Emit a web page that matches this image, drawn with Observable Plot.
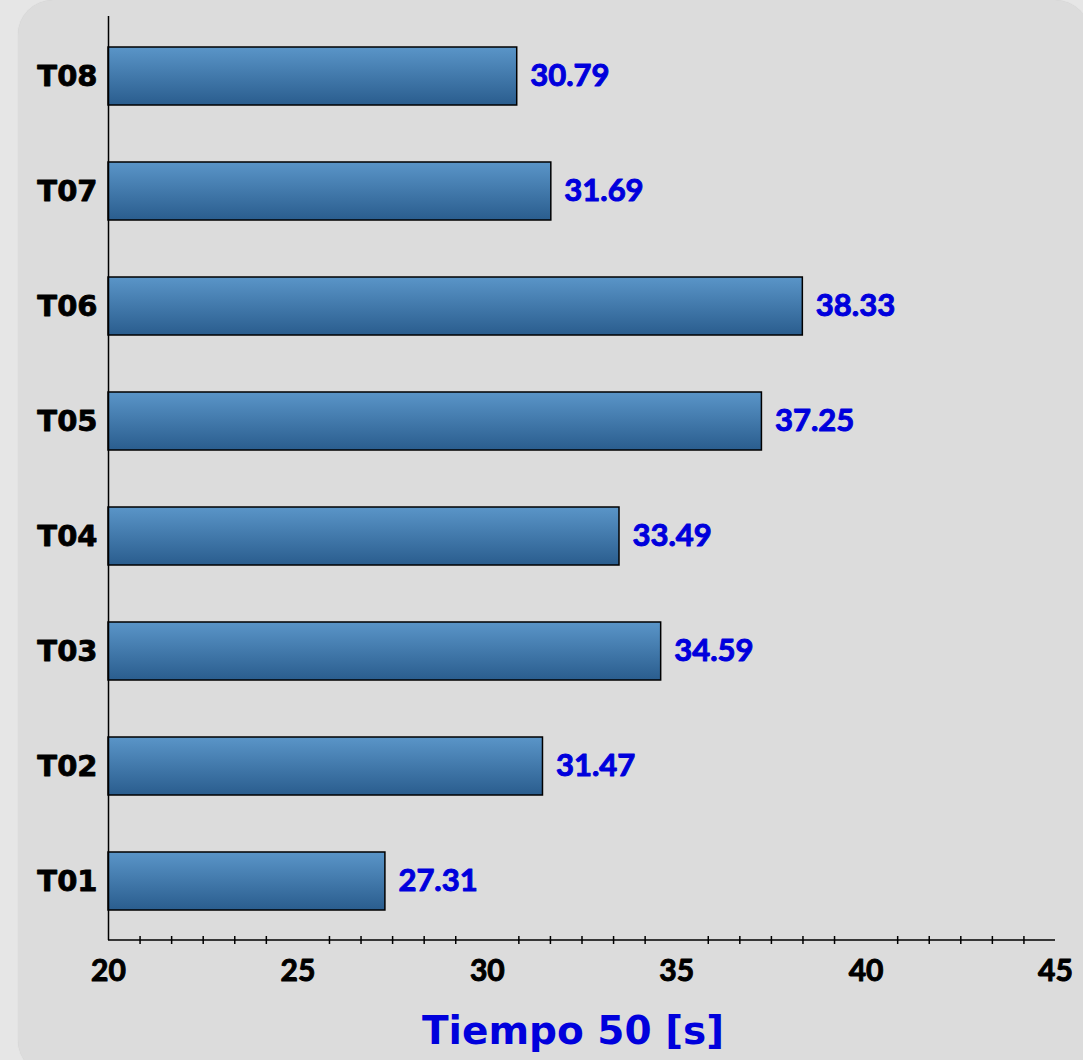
<!DOCTYPE html>
<html>
<head>
<meta charset="utf-8">
<script src="https://cdn.jsdelivr.net/npm/d3@7"></script>
<script src="https://cdn.jsdelivr.net/npm/@observablehq/plot@0.6"></script>
<style>
  html, body { margin: 0; padding: 0; }
  body { width: 1083px; height: 1060px; background: #e6e6e6; overflow: hidden; position: relative; }
  #panel { position: absolute; left: 18px; top: 0; width: 1072px; height: 1075px; background: #dcdcdc; border-radius: 35px; box-shadow: 0 0 1px #c8c8c8; }
  #chart { position: absolute; left: 0; top: 0; }
</style>
</head>
<body>
<div id="panel"></div>
<div id="chart"></div>
<script>
// Data
const categories = ["T01", "T02", "T03", "T04", "T05", "T06", "T07", "T08"];
const values = [27.31, 31.47, 34.59, 33.49, 37.25, 38.33, 31.69, 30.79];
const xTicks = [20, 25, 30, 35, 40, 45];
const xDomain = [20, 45];
const axisTitle = "Tiempo 50 [s]";

const data = categories.map((c, i) => ({cat: c, value: values[i]}));
const minorTicks = d3.range(0, 31).map(k => xDomain[0] + k * 5 / 6).filter((v, k) => k % 6 !== 0);

const numFont = "Lato, 'Open Sans', sans-serif";
const catFont = "'DejaVu Sans', sans-serif";

function gradientDefs() {
  const ns = "http://www.w3.org/2000/svg";
  const defs = document.createElementNS(ns, "defs");
  const g = document.createElementNS(ns, "linearGradient");
  g.setAttribute("id", "barGrad");
  g.setAttribute("x1", "0"); g.setAttribute("y1", "0");
  g.setAttribute("x2", "0"); g.setAttribute("y2", "1");
  [["0%", "#5a95c8"], ["100%", "#2a5d8e"]].forEach(([o, c]) => {
    const s = document.createElementNS(ns, "stop");
    s.setAttribute("offset", o); s.setAttribute("stop-color", c);
    g.appendChild(s);
  });
  defs.appendChild(g);
  return defs;
}

function xAxisLine(index, scales, values, dimensions) {
  const ns = "http://www.w3.org/2000/svg";
  const line = document.createElementNS(ns, "line");
  const y = dimensions.height - dimensions.marginBottom;
  line.setAttribute("x1", scales.x(xDomain[0]));
  line.setAttribute("x2", scales.x(xDomain[1]));
  line.setAttribute("y1", y);
  line.setAttribute("y2", y);
  line.setAttribute("stroke", "black");
  line.setAttribute("stroke-width", 1.5);
  return line;
}

const plot = Plot.plot({
  width: 1083,
  height: 1060,
  marginLeft: 108,
  marginRight: 28,
  marginTop: 16,
  marginBottom: 120,
  style: {background: "transparent", overflow: "visible"},
  x: {domain: xDomain, label: null},
  y: {domain: categories.slice().reverse(), paddingInner: 0.5, paddingOuter: 0.25, label: null},
  marks: [
    gradientDefs,
    Plot.barX(data, {
      x1: () => xDomain[0], x2: "value", y: "cat",
      fill: "url(#barGrad)", stroke: "black", strokeWidth: 1.5
    }),
    Plot.ruleX([xDomain[0]], {stroke: "black", strokeWidth: 1.5}),
    xAxisLine,
    Plot.axisX({ticks: minorTicks, tickSize: 8, dy: -4, tickFormat: () => "", strokeWidth: 1.5, label: null}),
    Plot.axisX({ticks: xTicks, tickSize: 0, tickPadding: 19, fontSize: 30, fontWeight: "bold",
      fontFamily: numFont, fill: "black", textStroke: "black", textStrokeWidth: 1, label: null}),
    Plot.axisY({tickSize: 0, tickPadding: 11, fontSize: 29, fontWeight: "bold",
      fontFamily: catFont, fill: "black", textStroke: "black", textStrokeWidth: 0.8, label: null}),
    Plot.text(data, {
      x: "value", y: "cat", text: d => d.value.toFixed(2), dx: 13, textAnchor: "start",
      fill: "#0000dc", stroke: "#0000dc", strokeWidth: 1, paintOrder: "stroke",
      fontSize: 31, fontWeight: "bold", fontFamily: numFont
    }),
    Plot.text([axisTitle], {
      frameAnchor: "bottom", text: d => d, dy: 103, dx: -9, fill: "#0000dc",
      fontSize: 39, fontWeight: "bold", fontFamily: catFont
    })
  ]
});
document.getElementById("chart").appendChild(plot);
</script>
</body>
</html>
